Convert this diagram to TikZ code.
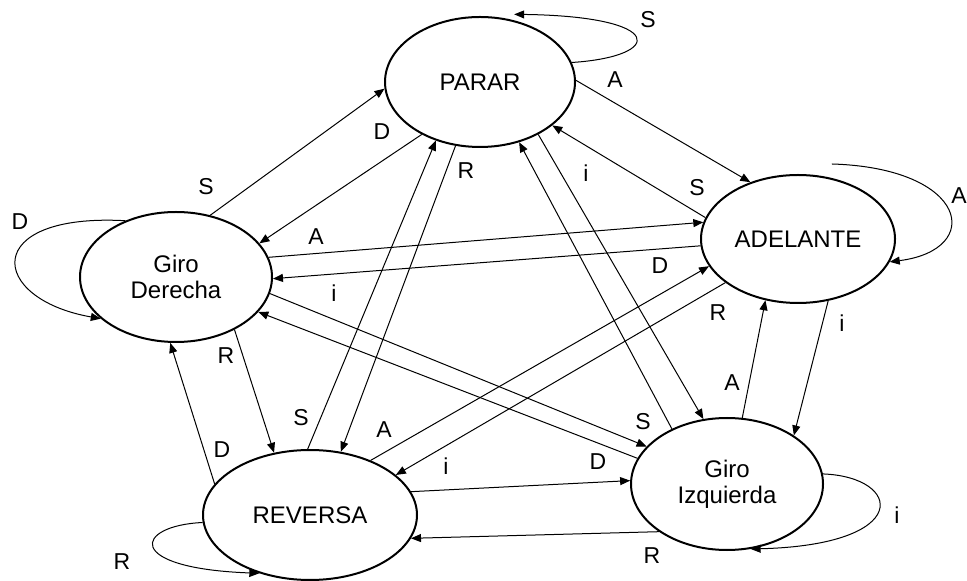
\documentclass[tikz,border=0pt]{standalone}
\usepackage{fontspec}
\setmainfont{Liberation Sans}
\usetikzlibrary{arrows.meta, shapes.geometric}

\begin{document}
\begin{tikzpicture}[
        x=0.5pt, y=-0.5pt,
        state/.style={draw, ellipse, line width=1pt, inner sep=0pt, align=center, font=\fontsize{12}{13}\selectfont},
        lbl/.style={font=\fontsize{11.5}{13}\selectfont, inner sep=0pt},
        arrow/.style={-{Triangle[length=5pt,width=4pt]}, line width=0.5pt}
    ]
    \useasboundingbox (0,0) rectangle (967,581);

    % states
    \node[state, minimum width=95pt, minimum height=65pt] (parar) at (480,82) {PARAR};
    \node[state, minimum width=96pt, minimum height=65pt] (gder) at (176,277) {Giro\\Derecha};
    \node[state, minimum width=97pt, minimum height=64pt] (adelante) at (798,239) {ADELANTE};
    \node[state, minimum width=107pt, minimum height=65pt] (reversa) at (310,515) {REVERSA};
    \node[state, minimum width=96pt, minimum height=66pt] (gizq) at (727,484) {Giro\\Izquierda};

    % from PARAR
    \draw[arrow] (parar.12) .. controls +(93,-6) and +(153,2) .. ([yshift=3pt]parar.61);
    \draw[arrow] (parar.1) -- (adelante.130);
    \draw[arrow] (parar.-138) -- (gder.22);
    \draw[arrow] (parar.-111) -- (reversa.64);
    \draw[arrow] (parar.-42) -- (gizq.110);

    % from Giro Derecha
    \draw[arrow] (gder.132) .. controls +(-145,-8) and +(-113,-20) .. (gder.-151);
    \draw[arrow] (gder.61) -- (parar.-176);
    \draw[arrow] (gder.12) -- (adelante.170);
    \draw[arrow] (gder.-10) -- (gizq.155);
    \draw[arrow] (gder.-42) -- (reversa.120);

    % from ADELANTE
    \draw[arrow] ([yshift=7pt]adelante.61) .. controls +(137,4) and +(95,-12) .. (adelante.-14);
    \draw[arrow] (adelante.167) -- (parar.-31);
    \draw[arrow] (adelante.-176) -- (gder.-1);
    \draw[arrow] (adelante.-149) -- (reversa.25);
    \draw[arrow] (adelante.-64) -- (gizq.36);

    % from REVERSA
    \draw[arrow] (reversa.-176) .. controls +(-68,3) and +(-137,-5) .. (reversa.-131);
    \draw[arrow] (reversa.92) -- (parar.-127);
    \draw[arrow] (reversa.42) -- (adelante.-163);
    \draw[arrow] (reversa.13) -- (gizq.178);
    \draw[arrow] (reversa.162) -- (gder.-95);

    % from Giro Izquierda
    \draw[arrow] (gizq.6) .. controls +(80,3) and +(163,-4) .. (gizq.-70);
    \draw[arrow] (gizq.135) -- (parar.-57);
    \draw[arrow] (gizq.77) -- (adelante.-118);
    \draw[arrow] (gizq.164) -- (gder.-23);
    \draw[arrow] (gizq.-145) -- (reversa.-13);

    % labels
    \node[lbl] (l-pa-pa) at (648,20) {S};
    \node[lbl] (l-pa-ad) at (615,80) {A};
    \node[lbl] (l-pa-gd) at (382,132) {D};
    \node[lbl] (l-pa-rv) at (466,171) {R};
    \node[lbl] (l-pa-gi) at (586,173) {i};

    \node[lbl] (l-gd-gd) at (20,222) {D};
    \node[lbl] (l-gd-pa) at (206,187) {S};
    \node[lbl] (l-gd-ad) at (316,237) {A};
    \node[lbl] (l-gd-gi) at (334,293) {i};
    \node[lbl] (l-gd-rv) at (226,356) {R};

    \node[lbl] (l-ad-ad) at (959,196) {A};
    \node[lbl] (l-ad-pa) at (697,188) {S};
    \node[lbl] (l-ad-gd) at (660,266) {D};
    \node[lbl] (l-ad-rv) at (718,313) {R};
    \node[lbl] (l-ad-gi) at (842,323) {i};

    \node[lbl] (l-rv-rv) at (122,562) {R};
    \node[lbl] (l-rv-pa) at (301,418) {S};
    \node[lbl] (l-rv-ad) at (384,430) {A};
    \node[lbl] (l-rv-gi) at (446,466) {i};
    \node[lbl] (l-rv-gd) at (222,450) {D};

    \node[lbl] (l-gi-gi) at (897,515) {i};
    \node[lbl] (l-gi-pa) at (643,422) {S};
    \node[lbl] (l-gi-ad) at (732,383) {A};
    \node[lbl] (l-gi-gd) at (598,462) {D};
    \node[lbl] (l-gi-rv) at (652,556) {R};

\end{tikzpicture}
\end{document}
